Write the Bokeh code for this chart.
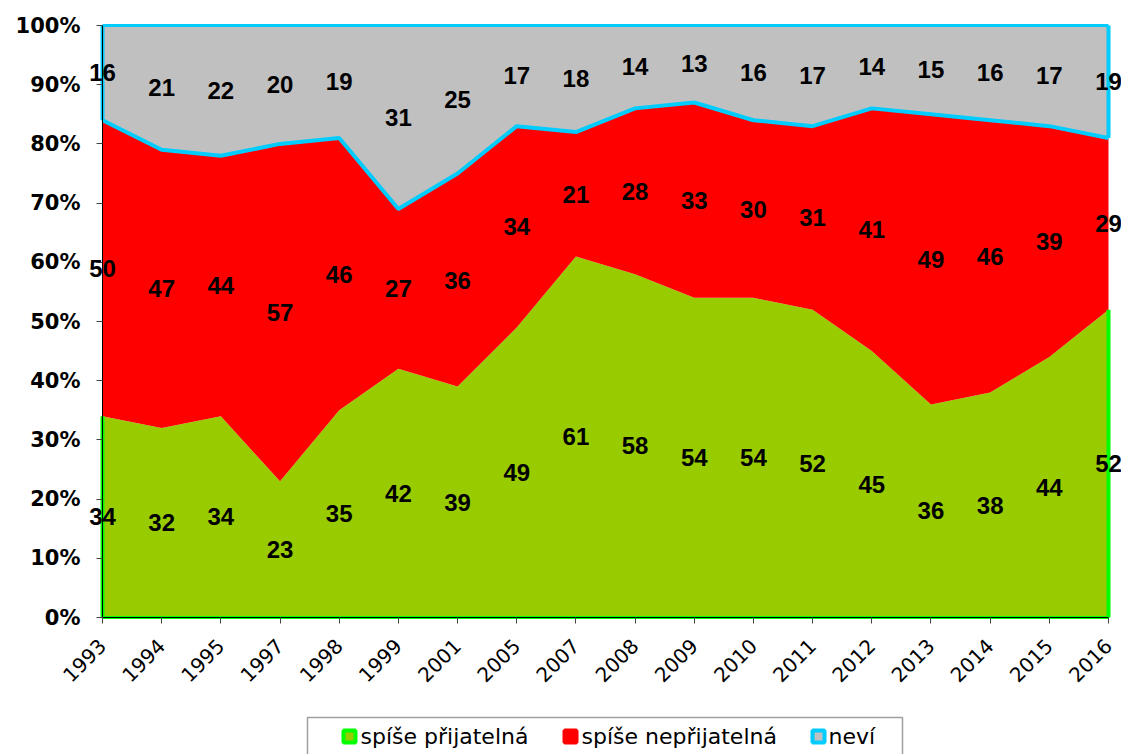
import math
import numpy as np
from bokeh.plotting import figure
from bokeh.models import Range1d, FixedTicker, ColumnDataSource, LabelSet
from bokeh.core.properties import value
from bokeh.embed import file_html
from bokeh.resources import INLINE

years = ["1993", "1994", "1995", "1997", "1998", "1999", "2001", "2005", "2007",
         "2008", "2009", "2010", "2011", "2012", "2013", "2014", "2015", "2016"]
prijatelna = [34, 32, 34, 23, 35, 42, 39, 49, 61, 58, 54, 54, 52, 45, 36, 38, 44, 52]
neprijatelna = [50, 47, 44, 57, 46, 27, 36, 34, 21, 28, 33, 30, 31, 41, 49, 46, 39, 29]
nevi = [16, 21, 22, 20, 19, 31, 25, 17, 18, 14, 13, 16, 17, 14, 15, 16, 17, 19]
series_names = ["spíše přijatelná", "spíše nepřijatelná", "neví"]
y_ticks = list(range(0, 101, 10))

GREEN = "#99CC00"
GREEN_EDGE = "#00FF00"
RED = "#FF0000"
GREY = "#C0C0C0"
CYAN = "#00CCFF"

x = np.arange(len(years))
g = np.array(prijatelna, float)
r = np.array(neprijatelna, float)
n = np.array(nevi, float)
top_g = g
top_r = g + r
total = g + r + n

# ---- layout constants (pixels) ----
W, H = 1121, 754
PLOT_L, PLOT_R, PLOT_T, PLOT_B = 102, 1108, 25, 617
px_per_x = (PLOT_R - PLOT_L) / (len(years) - 1)
px_per_y = (PLOT_B - PLOT_T) / 100.0


def X(px):
    return (px - PLOT_L) / px_per_x


def Y(py):
    return (PLOT_B - py) / px_per_y


p = figure(width=W, height=H, x_range=Range1d(X(0), X(W)), y_range=Range1d(Y(H), Y(0)),
           output_backend="svg", toolbar_location=None, min_border=0)
p.outline_line_color = None
p.grid.visible = False
p.background_fill_color = "white"

p.varea(x=x, y1=np.zeros(len(x)), y2=top_g, fill_color=GREEN)
p.varea(x=x, y1=top_g, y2=top_r, fill_color=RED)
p.varea(x=x, y1=top_r, y2=total, fill_color=GREY)

# green series border (left, bottom, right)
p.line(x, np.zeros(len(x)), line_color=GREEN_EDGE, line_width=3)
p.segment(x0=[x[0], x[-1]], y0=[0, 0], x1=[x[0], x[-1]], y1=[top_g[0], top_g[-1]],
          line_color=GREEN_EDGE, line_width=4)
# neví series border
p.line(x, top_r, line_color=CYAN, line_width=4)
p.line(x, total, line_color=CYAN, line_width=3)
p.segment(x0=[x[0], x[-1]], y0=[top_r[0], top_r[-1]], x1=[x[0], x[-1]], y1=[total[0], total[-1]],
          line_color=CYAN, line_width=4)

# data labels
lx = np.concatenate([x, x, x])
ly = np.concatenate([g / 2, g + r / 2, g + r + n / 2])
lt = [str(v) for v in prijatelna + neprijatelna + nevi]
lsrc = ColumnDataSource(dict(x=lx, y=ly, t=lt))
labels = LabelSet(x="x", y="y", text="t", source=lsrc, text_align="center", text_baseline="middle",
                  text_font=value("Liberation Sans"), text_font_style="bold",
                  text_font_size="24px", text_color="black")
p.add_layout(labels)

# axes (drawn at the data edges, inside the frame)
p.yaxis.fixed_location = x[0]
p.yaxis.bounds = (0, 100)
p.yaxis.ticker = FixedTicker(ticks=y_ticks)
p.yaxis.major_label_overrides = {t: f"{t}%" for t in y_ticks}
p.yaxis.major_label_text_font = "DejaVu Sans"
p.yaxis.major_label_text_font_style = "bold"
p.yaxis.major_label_text_font_size = "21px"
p.yaxis.major_label_standoff = 16
p.xaxis.fixed_location = 0
p.xaxis.bounds = (x[0], x[-1])
p.xaxis.ticker = FixedTicker(ticks=list(x))
p.xaxis.major_label_overrides = {int(i): years[i] for i in x}
p.xaxis.major_label_orientation = math.pi / 4
p.xaxis.major_label_text_font = "DejaVu Sans"
p.xaxis.major_label_text_font_size = "20px"
p.xaxis.major_label_standoff = 19
p.axis.minor_tick_line_color = None
p.axis.major_tick_in = 0
p.axis.major_tick_out = 6
p.axis.axis_line_color = "black"
p.axis.major_tick_line_color = "#444444"
p.axis.major_label_text_color = "black"

# ---- legend box below the plot (pixel layout converted to plot units) ----
p.quad(left=[X(307)], right=[X(902)], top=[Y(717)], bottom=[Y(H + 10)],
       fill_color="white", line_color="#A0A0A0", line_width=1.5)
glyph_px = [349, 570, 818]
text_px = [360, 581, 828]
p.rect(x=[X(v) for v in glyph_px], y=[Y(736)] * 3, width=12, height=12,
       width_units="screen", height_units="screen",
       fill_color=[GREEN, RED, GREY], line_color=[GREEN_EDGE, RED, CYAN], line_width=4)
p.text(x=[X(v) for v in text_px], y=[Y(736)] * 3, text=series_names,
       text_align="left", text_baseline="middle",
       text_font=value("DejaVu Sans"), text_font_size="22px", text_color="black")

open("out.html", "w").write(file_html(p, INLINE))
